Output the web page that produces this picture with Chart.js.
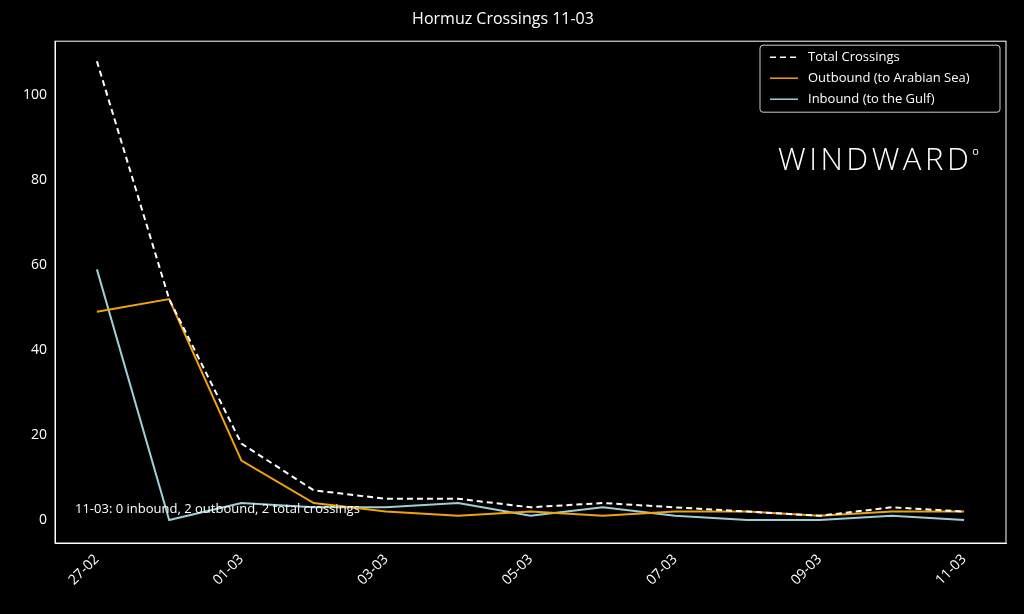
<!DOCTYPE html>
<html><head><meta charset="utf-8">
<script src="https://cdn.jsdelivr.net/npm/chart.js@4/dist/chart.umd.min.js"></script>
<style>html,body{margin:0;background:#000;}#wrap{width:1024px;height:614px;}</style>
</head><body><div id="wrap"><canvas id="c"></canvas></div>
<script>
const dies = ['27-02','28-02','01-03','02-03','03-03','04-03','05-03','06-03','07-03','08-03','09-03','10-03','11-03'];
const totals = [108, 52, 18, 7, 5, 5, 3, 4, 3, 2, 1, 3, 2];
const sortides = [49, 52, 14, 4, 2, 1, 2, 1, 2, 2, 1, 2, 2];
const entrades = [59, 0, 4, 3, 3, 4, 1, 3, 1, 0, 0, 1, 0];
const yTicks = [0, 20, 40, 60, 80, 100];
const xTicks = [0, 2, 4, 6, 8, 10, 12];

const font = 'Open Sans';
const punts = arr => arr.map((v, i) => ({x: i, y: v}));

const extres = {
  id: 'extres',
  afterDraw(chart) {
    const {ctx, chartArea: a} = chart;
    ctx.save();
    ctx.strokeStyle = '#fff'; ctx.lineWidth = 1;
    ctx.strokeRect(a.left, a.top, a.right - a.left, a.bottom - a.top);
    // llegenda
    const lx = a.right - 246, ly = a.top + 4, lw = 240, lh = 67;
    ctx.fillStyle = 'rgba(0,0,0,0.8)';
    ctx.strokeStyle = '#ccc';
    ctx.beginPath(); ctx.roundRect(lx, ly, lw, lh, 3); ctx.fill(); ctx.stroke();
    ctx.font = '13px ' + font; ctx.textBaseline = 'middle';
    chart.data.datasets.forEach((ds, i) => {
      const y = ly + 12 + i * 21;
      ctx.strokeStyle = ds.borderColor; ctx.lineWidth = 1.5;
      ctx.setLineDash(ds.borderDash || []);
      ctx.beginPath(); ctx.moveTo(lx + 10, y); ctx.lineTo(lx + 38, y); ctx.stroke();
      ctx.setLineDash([]);
      ctx.fillStyle = '#fff'; ctx.fillText(ds.label, lx + 48, y);
    });
    // marca: lletra a lletra per controlar l'espaiat
    ctx.fillStyle = '#fff';
    ctx.font = '300 31px ' + font; ctx.textAlign = 'left';
    let x = 778;
    for (const ch of 'WINDWARD') {
      ctx.fillText(ch, x, 161);
      x += ctx.measureText(ch).width + 3.5;
    }
    ctx.font = '11px ' + font;
    ctx.fillText('o', x, 152);
    // nota
    const ys = chart.scales.y;
    ctx.font = '13px ' + font;
    ctx.fillText('11-03: 0 inbound, 2 outbound, 2 total crossings', 75, ys.getPixelForValue(2.5));
    ctx.restore();
  }
};

new Chart(document.getElementById('c'), {
  type: 'line',
  data: {
    datasets: [
      {label: 'Total Crossings', data: punts(totals), borderColor: '#fff', borderDash: [6, 4], borderWidth: 2},
      {label: 'Outbound (to Arabian Sea)', data: punts(sortides), borderColor: '#f0a30a', borderWidth: 2},
      {label: 'Inbound (to the Gulf)', data: punts(entrades), borderColor: '#9ccfd8', borderWidth: 2}
    ]
  },
  options: {
    responsive: true, maintainAspectRatio: false, animation: false,
    elements: {point: {radius: 0}, line: {tension: 0}},
    layout: {padding: {left: 0, right: 18, top: 0, bottom: 0}},
    scales: {
      x: {
        type: 'linear', min: -0.58, max: 12.58,
        afterBuildTicks: s => { s.ticks = xTicks.map(v => ({value: v})); },
        afterFit: s => { s.height = 71; },
        grid: {display: false, drawTicks: true, tickColor: '#fff', tickLength: 5},
        border: {color: '#fff'},
        ticks: {color: '#fff', font: {family: font, size: 14}, maxRotation: 45, minRotation: 45,
          callback: v => dies[v]}
      },
      y: {
        min: -5.4, max: 112.7,
        afterBuildTicks: s => { s.ticks = yTicks.map(v => ({value: v})); },
        afterFit: s => { s.width = 55; },
        grid: {display: false, drawTicks: true, tickColor: '#fff', tickLength: 5},
        border: {color: '#fff'},
        ticks: {color: '#fff', font: {family: font, size: 14}}
      }
    },
    plugins: {
      legend: {display: false},
      tooltip: {enabled: false},
      title: {display: true, text: 'Hormuz Crossings 11-03', color: '#fff',
        font: {family: font, size: 16, weight: 'normal'}, padding: {top: 10, bottom: 12}}
    }
  },
  plugins: [extres]
});
</script></body></html>
